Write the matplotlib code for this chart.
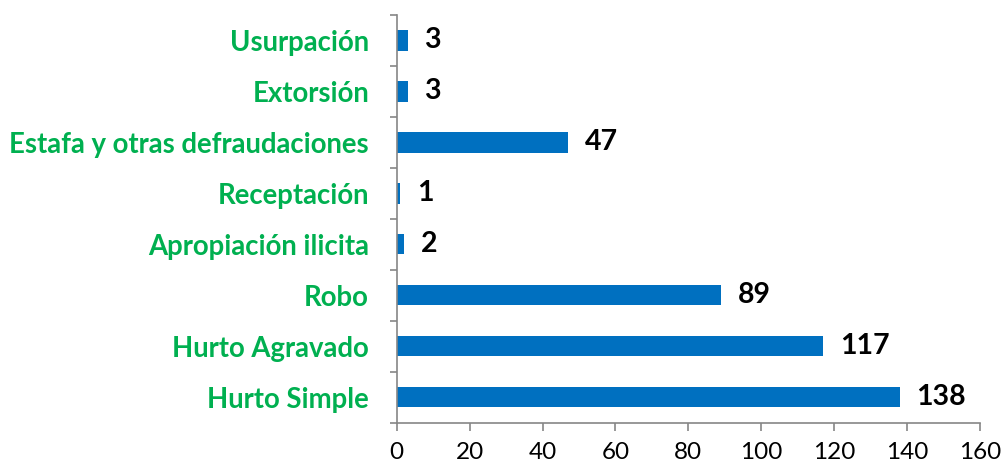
import matplotlib.pyplot as plt
import numpy as np

categorias = ["Hurto Simple", "Hurto Agravado", "Robo", "Apropiación ilicita",
              "Receptación", "Estafa y otras defraudaciones", "Extorsión", "Usurpación"]
valores = [138, 117, 89, 2, 1, 47, 3, 3]

plt.rcParams['font.family'] = ['Lato', 'DejaVu Sans']

fig = plt.figure(figsize=(10.02, 4.67), dpi=100)
ax = fig.add_axes([0.396, 0.095, 0.582, 0.873])

y = np.arange(len(categorias))
ax.barh(y, valores, height=0.4, color="#0070C0")

for yi, v in zip(y, valores):
    ax.text(v + 4.5, yi, str(v), va="center", ha="left", fontsize=20.5,
            fontweight="bold", color="black")

ax.set_xlim(0, 160)
ax.set_ylim(-0.5, len(categorias) - 0.5)
ax.set_xticks(np.arange(0, 161, 20))
ax.set_yticks(y)
ax.set_yticklabels(categorias, fontsize=19.8, fontweight="bold", color="#00B050")
ax.set_yticks(np.arange(-0.5, len(categorias)), minor=True)
ax.tick_params(axis="y", which="major", length=0, pad=20)
ax.tick_params(axis="y", which="minor", length=5, color="#868686", width=1.2)
ax.tick_params(axis="x", length=6, color="#868686", width=1.2, labelsize=17.5, pad=8)

for s in ["top", "right"]:
    ax.spines[s].set_visible(False)
for s in ["left", "bottom"]:
    ax.spines[s].set_color("#868686")
    ax.spines[s].set_linewidth(1.2)

fig.savefig("out.png", dpi=100)
